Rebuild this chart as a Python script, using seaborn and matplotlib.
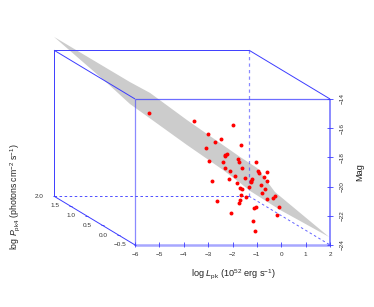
import matplotlib
matplotlib.use("Agg")
import matplotlib.pyplot as plt
import pandas as pd
import seaborn as sns

sns.set_style("white")
plt.rcParams["font.family"] = ["Liberation Sans", "DejaVu Sans"]
plt.rcParams["mathtext.fontset"] = "custom"
plt.rcParams["mathtext.rm"] = "Liberation Sans"
plt.rcParams["mathtext.it"] = "Liberation Sans:italic"
plt.rcParams["axes.unicode_minus"] = True

# projected burst positions in front-face units
log_lpk = [-3.57, -1.98, -3.02, -2.47, -2.72, -1.64, -3.09, -2.23, -2.31, -2.30,
           -1.76, -1.72, -2.98, -2.38, -1.05, -2.31, -1.60, -0.94, -0.91, -0.57,
           -2.10, -1.91, -0.72, -2.13, -1.47, -1.20, -1.23, -1.25, -2.84, -0.60,
           -1.80, -1.34, -0.82, -1.68, -1.62, -0.68, -0.79, -1.64, -1.43, -0.24,
           -0.35, -0.57, -1.70, -1.75, -2.62, -0.09, -1.04, -1.12, -2.06, -0.19,
           -1.15, -1.06, -5.41]
mag = [-15.49, -15.80, -16.40, -16.76, -16.97, -17.13, -17.36, -17.79, -17.82, -17.88,
       -18.13, -18.32, -18.27, -18.34, -18.32, -18.73, -18.71, -18.91, -19.05, -18.98,
       -18.93, -19.29, -19.32, -19.50, -19.39, -19.50, -19.62, -19.68, -19.62, -19.64,
       -19.75, -20.03, -19.91, -20.08, -20.16, -20.14, -20.44, -20.55, -20.71, -20.62,
       -20.80, -20.85, -20.94, -21.12, -20.99, -21.38, -21.40, -21.49, -21.79, -21.97,
       -22.36, -23.01, -14.98]

# grey fitted plane outline
plane_x = [-9.32, -6.21, -5.38, -3.87, -1.69, -0.99, -0.26, 1.96,
           -0.05, -1.28, -1.69, -2.39, -3.87, -6.21, -7.15]
plane_y = [-9.75, -12.84, -13.59, -15.44, -17.97, -18.73, -20.37, -23.45,
           -21.60, -20.30, -19.75, -18.86, -17.15, -14.34, -12.90]

l_ticks = [-6, -5, -4, -3, -2, -1, 0, 1, 2]
mag_ticks = [-14, -16, -18, -20, -22, -24]
p_ticks = [-0.5, 0.0, 0.5, 1.0, 1.5, 2.0]

BLUE = "#3c3cff"
L0, L1 = -6, 2
M0, M1 = -14, -24
DX, DY = -3.323, 3.34  # shift of the back face


def depth(p):
    return (p + 0.5) / 2.5


def line(ax, x, y, lw=0.7, alpha=1.0):
    ax.plot(x, y, color=BLUE, lw=lw, alpha=alpha, solid_capstyle="butt", zorder=3)


def dashed(ax, x, y, lw=0.7, alpha=0.9):
    ax.plot(x, y, color=BLUE, lw=lw, alpha=alpha, dashes=(2.6, 2.6), zorder=3)


fig = plt.figure(figsize=(3.74, 3.07), dpi=100)
ax = fig.add_axes([0, 0, 1, 1])
ax.set_xlim(-11.54, 3.805)
ax.set_ylim(-28.25, -7.22)
ax.axis("off")

ax.fill(plane_x, plane_y, color="#cccccc", lw=0, zorder=2)

# back face
line(ax, [L0 + DX, L0 + DX], [M1 + DY, M0 + DY])
line(ax, [L0 + DX, L1 + DX], [M0 + DY, M0 + DY])
dashed(ax, [L1 + DX, L1 + DX], [M0 + DY, M1 + DY], lw=0.9, alpha=0.6)
dashed(ax, [L0 + DX, L1 + DX], [M1 + DY, M1 + DY])
# depth edges
line(ax, [L0 + DX, L0], [M0 + DY, M0])
line(ax, [L0 + DX, L0], [M1 + DY, M1])
line(ax, [L1 + DX, L1], [M0 + DY, M0])
dashed(ax, [L1 + DX, L1], [M1 + DY, M1], alpha=0.8)
# front face
line(ax, [L0, L1], [M0, M0], lw=0.9, alpha=0.75)
line(ax, [L0, L0], [M0, M1], lw=0.9, alpha=0.6)
line(ax, [L0, L1], [M1, M1], lw=1.8, alpha=0.45)
line(ax, [L1, L1], [M0, M1], lw=1.4, alpha=0.6)

df = pd.DataFrame({"log_lpk": log_lpk, "mag": mag})
sns.scatterplot(data=df, x="log_lpk", y="mag", ax=ax, color="#ff0000", s=8,
                linewidth=0, zorder=4)
ax.set_xlabel("")
ax.set_ylabel("")

tick_font = dict(fontsize=4.6, color="#333333")
for t in l_ticks:
    line(ax, [t, t], [M1 - 0.12, M1 + 0.18], lw=0.6)
    ax.text(t, M1 - 0.65, str(t).replace("-", "\u2212"), ha="center", va="center", **tick_font)
for t in mag_ticks:
    line(ax, [L1 - 0.12, L1 + 0.12], [t, t], lw=0.6)
    ax.text(L1 + 0.5, t, str(t).replace("-", "\u2212"), rotation=90, ha="center", va="center", **tick_font)
for p in p_ticks:
    d = depth(p)
    px, py = L0 + DX * d, M1 + DY * d
    line(ax, [px - 0.06, px + 0.06], [py, py], lw=0.6)
    ax.text(px - 0.62, py, f"{p:.1f}".replace("-", "\u2212"), ha="center", va="center", **tick_font)

ax.text(-1.95, -26.0, r"log $\mathit{L}_{\mathrm{pk}}$ (10$^{52}$ erg s$^{-1}$)",
        ha="center", va="center", fontsize=6.6, color="#222222")
ax.text(3.2, -19.0, "Mag", rotation=90, ha="center", va="center", fontsize=6.6, color="#222222")
ax.text(-10.93, -20.7, r"log $\mathit{P}_{\mathrm{pk4}}$ (photons cm$^{-2}$ s$^{-1}$)",
        rotation=90, ha="center", va="center", fontsize=6.3, color="#222222")

fig.savefig("out.png", dpi=100)
plt.close(fig)
